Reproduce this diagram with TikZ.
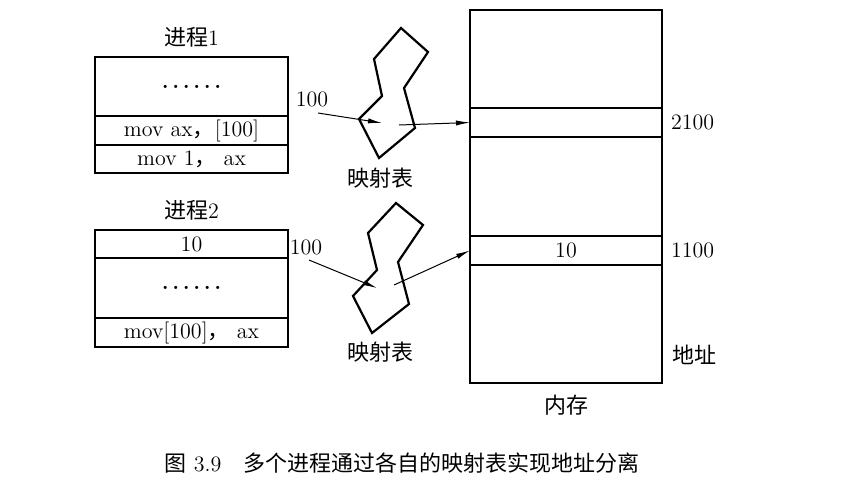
\documentclass[tikz,border=0pt]{standalone}
\usepackage{fontspec}
\newfontfamily\cjk{Noto Sans CJK SC}
\usetikzlibrary{arrows.meta, positioning, fit}
\newcommand{\dotrow}{\textbf{.\kern1.8pt.\kern1.8pt.\kern1.8pt.\kern1.8pt.\kern1.8pt.}}

\begin{document}
\begin{tikzpicture}[
    x=0.5pt, y=-0.5pt,
    cell/.style={rectangle, draw, line width=0.6pt, inner sep=0pt, outer sep=0pt, minimum width=96.5pt, font=\fontsize{11}{13}\selectfont},
    memcell/.style={cell, minimum width=96pt},
    frame/.style={rectangle, draw, line width=1.1pt, inner sep=0pt},
    label/.style={font=\fontsize{11}{13}\selectfont},
    maptab/.style={line width=1.1pt, line join=miter},
    arrow/.style={-{Latex[length=7pt, width=2.6pt]}, line width=0.5pt}
]
\useasboundingbox (0,0) rectangle (855,488);

% Process 1
\node[cell, minimum height=29.5pt, anchor=north west] (p1a) at (95,57) {\dotrow};
\node[cell, minimum height=14.5pt, below=0pt of p1a] (p1b) {mov ax{\cjk ，}[100]};
\node[cell, minimum height=14pt, below=0pt of p1b] (p1c) {mov 1{\cjk ，} ax};
\node[frame, fit=(p1a)(p1c)] (proc1) {};
\node[label, above=1pt of proc1] (proc1lbl) {{\cjk 进程}1};

% Process 2
\node[cell, minimum height=14pt, anchor=north west] (p2a) at (95,230) {10};
\node[cell, minimum height=30pt, below=0pt of p2a] (p2b) {\dotrow};
\node[cell, minimum height=14.5pt, below=0pt of p2b] (p2c) {mov[100]{\cjk ，} ax};
\node[frame, fit=(p2a)(p2c)] (proc2) {};
\node[label, above=1pt of proc2] (proc2lbl) {{\cjk 进程}2};

% Memory
\node[memcell, minimum height=49pt, anchor=north west] (m1) at (470,10) {};
\node[memcell, minimum height=14.5pt, below=0pt of m1] (m2) {};
\node[memcell, minimum height=49.5pt, below=0pt of m2] (m3) {};
\node[memcell, minimum height=14.5pt, below=0pt of m3] (m4) {10};
\node[memcell, minimum height=59pt, below=0pt of m4] (m5) {};
\node[frame, fit=(m1)(m5)] (mem) {};
\node[label, below=2pt of mem] (memlbl) {\cjk 内存};
\node[label, right=1pt of m2] (addr1) {2100};
\node[label, right=1pt of m4] (addr2) {1100};
\node[label, anchor=west] (addrlbl) at (m5.east |- 0,355) {\hspace{1.5pt}\cjk 地址};

% Mapping tables
\draw[maptab] (401,28) -- (428,52) -- (404,88) -- (415,128) -- (379,158)
    -- (359,119) -- (382,96) -- (374,59) -- cycle;
\draw[maptab] (396,203) -- (423,225) -- (398,262) -- (409,304) -- (372,333)
    -- (353,296) -- (377,270) -- (368,233) -- cycle;
\node[label] (map1lbl) at (380,178) {\cjk 映射表};
\node[label] (map2lbl) at (380,352) {\cjk 映射表};

% Mapping arrows
\node[label] (off1) at (312,99) {100};
\node[label] (off2) at (306,247) {100};
\coordinate (in1) at (318,113);
\coordinate (mid1) at (382,123);
\coordinate (out1) at (399,125);
\coordinate (in2) at (309,260);
\coordinate (mid2) at (377,288);
\coordinate (out2) at (394,285);
\draw[arrow] (in1) -- (mid1);
\draw[arrow] (out1) -- (m2.west);
\draw[arrow] (in2) -- (mid2);
\draw[arrow] (out2) -- (m4.west);

% Caption
\node[label] (caption) at (402,463) {{\cjk 图} 3.9\quad{\cjk 多个进程通过各自的映射表实现地址分离}};

\end{tikzpicture}
\end{document}
